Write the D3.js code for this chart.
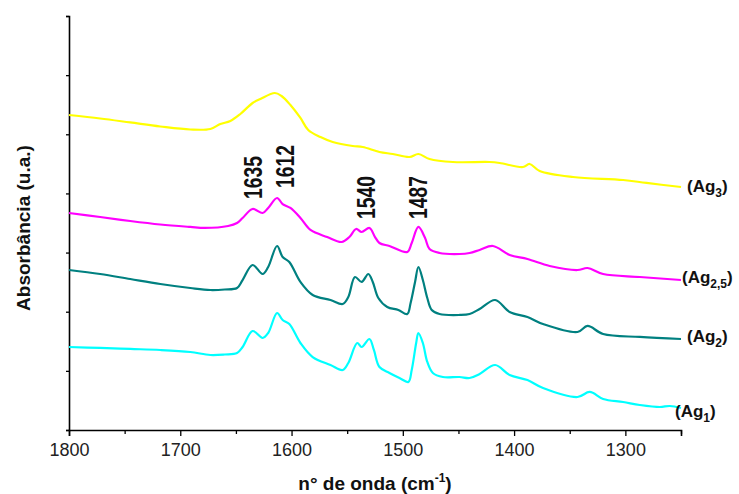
<!DOCTYPE html>
<html lang="pt">
<head>
<meta charset="utf-8">
<title>Espectros FTIR</title>
<script src="https://cdn.jsdelivr.net/npm/d3@7"></script>
<style>
  body { margin: 0; background: #fff; }
  text { font-family: Arial, "Liberation Sans", sans-serif; }
</style>
</head>
<body>
<script>
var ag3Wn  = [1800,1772,1745,1718,1691,1673,1664,1655,1646,1635,1628,1615,1609,1601,1592,1585,1574,1563,1545,1536,1521,1509,1494,1486,1476,1455,1422,1413,1392,1386,1377,1347,1302,1281,1250];
var ag3Abs = [5.326,5.267,5.200,5.132,5.081,5.090,5.174,5.225,5.343,5.529,5.597,5.698,5.647,5.495,5.276,5.073,4.954,4.870,4.802,4.785,4.701,4.667,4.616,4.667,4.582,4.531,4.531,4.515,4.447,4.498,4.380,4.278,4.227,4.177,4.109];

var ag25Wn  = [1800,1772,1745,1718,1691,1678,1657,1649,1644,1635,1626,1621,1613,1608,1601,1592,1583,1568,1555,1548,1542,1537,1530,1525,1521,1512,1496,1492,1486,1480,1476,1467,1449,1440,1431,1419,1404,1388,1368,1343,1334,1320,1287,1250];
var ag25Abs = [3.669,3.602,3.534,3.475,3.433,3.416,3.449,3.500,3.585,3.737,3.669,3.754,3.923,3.821,3.754,3.585,3.382,3.263,3.179,3.263,3.399,3.348,3.416,3.263,3.162,3.111,3.010,3.162,3.433,3.247,3.061,2.993,2.976,2.993,3.044,3.111,2.959,2.891,2.773,2.705,2.739,2.638,2.587,2.536];

var ag2Wn  = [1800,1772,1745,1718,1691,1673,1660,1649,1644,1635,1626,1621,1613,1608,1602,1592,1581,1565,1554,1549,1543,1537,1531,1527,1522,1514,1504,1496,1493,1489,1486,1482,1478,1474,1467,1449,1440,1431,1417,1404,1388,1374,1343,1334,1320,1287,1250];
var ag2Abs = [2.705,2.638,2.553,2.469,2.401,2.367,2.376,2.401,2.536,2.790,2.638,2.756,3.111,2.925,2.841,2.503,2.283,2.198,2.131,2.249,2.587,2.503,2.638,2.503,2.232,2.080,2.029,1.961,2.147,2.503,2.756,2.536,2.232,2.029,1.961,1.945,1.961,2.046,2.198,1.995,1.911,1.792,1.657,1.759,1.623,1.573,1.539];

var ag1Wn  = [1800,1772,1745,1718,1691,1673,1660,1649,1644,1635,1626,1621,1613,1608,1602,1592,1581,1565,1554,1549,1541,1537,1530,1526,1521,1512,1503,1495,1492,1488,1486,1482,1478,1473,1464,1449,1440,1431,1417,1404,1388,1374,1343,1332,1320,1302,1287,1269,1260,1250];
var ag1Abs = [1.403,1.387,1.370,1.353,1.319,1.268,1.277,1.302,1.403,1.674,1.556,1.640,1.978,1.860,1.792,1.471,1.234,1.099,1.015,1.133,1.471,1.403,1.539,1.353,1.065,0.964,0.879,0.812,1.015,1.471,1.640,1.471,1.150,0.964,0.896,0.896,0.879,0.947,1.099,0.930,0.845,0.710,0.558,0.643,0.524,0.473,0.423,0.389,0.406,0.372];

var seriesNames  = ["Ag3", "Ag2,5", "Ag2", "Ag1"];
var seriesColors = ["#ffff00", "#ff00ff", "#008080", "#00ffff"];
var peakLabels   = [1635, 1612, 1540, 1487];
var xTicks = [1800, 1700, 1600, 1500, 1400, 1300];

var series = [
  {wn: ag3Wn, abs: ag3Abs},
  {wn: ag25Wn, abs: ag25Abs},
  {wn: ag2Wn, abs: ag2Abs},
  {wn: ag1Wn, abs: ag1Abs}
];

var w = 739, h = 494;
var mLeft = 69, mRight = 681, mTop = 16, mBottom = 430;

var svg = d3.select("body").append("svg")
  .attr("width", w)
  .attr("height", h);

var x = d3.scaleLinear().domain([1800, 1250]).range([mLeft, mRight]);
var y = d3.scaleLinear().domain([0, 7]).range([mBottom, mTop]);

// eixos
var xAxis = d3.axisBottom(x).tickValues(xTicks).tickSize(6).tickFormat(d3.format("d"));
var xMinor = d3.axisBottom(x).tickValues(d3.range(1750, 1249, -100)).tickSize(4).tickFormat("");
var yAxis = d3.axisLeft(y).tickValues(d3.range(0, 8)).tickSize(3).tickFormat("");

var gx = svg.append("g").attr("transform", "translate(0," + mBottom + ")").call(xAxis);
svg.append("g").attr("transform", "translate(0," + mBottom + ")").call(xMinor)
  .select(".domain").remove();
var gy = svg.append("g").attr("transform", "translate(" + mLeft + ",0)").call(yAxis);

svg.selectAll(".domain").attr("stroke", "#000").attr("stroke-width", 1.6);
svg.selectAll(".tick line").attr("stroke", "#000").attr("stroke-width", 1.3);
gx.selectAll(".tick text")
  .attr("font-size", "18px")
  .attr("font-family", "Arial, 'Liberation Sans', sans-serif")
  .attr("fill", "#222")
  .attr("y", 13);

// curvas
var line = d3.line()
  .x(function (d) { return x(d[0]); })
  .y(function (d) { return y(d[1]); })
  .curve(d3.curveCatmullRom.alpha(0.5));

series.forEach(function (s, i) {
  var pts = s.wn.map(function (v, j) { return [v, s.abs[j]]; });
  svg.append("path")
    .attr("d", line(pts))
    .attr("fill", "none")
    .attr("stroke", seriesColors[i])
    .attr("stroke-width", 2.2)
    .attr("stroke-linejoin", "round");
});

// rotulos das amostras
var labelPos = [[687, 192], [682, 283], [687, 342], [675, 417]];
seriesNames.forEach(function (name, i) {
  var parts = name.split("g");
  var t = svg.append("text")
    .attr("x", labelPos[i][0])
    .attr("y", labelPos[i][1])
    .attr("font-size", "17px")
    .attr("font-weight", "bold")
    .attr("fill", "#111");
  t.append("tspan").text("(" + parts[0] + "g");
  t.append("tspan").attr("font-size", "12px").attr("dy", 5).text(parts[1]);
  t.append("tspan").attr("dy", -5).text(")");
});

// rotulos dos picos
var peakY = [177.5, 166.5, 197.5, 197.5];
var peakDx = [0, 6, 7, 0];
peakLabels.forEach(function (p, i) {
  svg.append("text")
    .attr("transform", "translate(" + (x(p) + peakDx[i]) + "," + peakY[i] + ") rotate(-90) scale(0.74,1)")
    .attr("text-anchor", "middle")
    .attr("dy", "0.36em")
    .attr("font-size", "26px")
    .attr("font-weight", "bold")
    .attr("fill", "#111")
    .text(p);
});

// titulos dos eixos
var xt = svg.append("text")
  .attr("x", 375)
  .attr("y", 490)
  .attr("text-anchor", "middle")
  .attr("font-size", "19px")
  .attr("font-weight", "bold")
  .attr("fill", "#111");
xt.append("tspan").text("n° de onda (cm");
xt.append("tspan").attr("font-size", "12px").attr("dy", -8).text("-1");
xt.append("tspan").attr("dy", 8).text(")");

svg.append("text")
  .attr("transform", "translate(30,228) rotate(-90)")
  .attr("text-anchor", "middle")
  .attr("font-size", "19px")
  .attr("font-weight", "bold")
  .attr("fill", "#111")
  .text("Absorbância (u.a.)");
</script>
</body>
</html>
